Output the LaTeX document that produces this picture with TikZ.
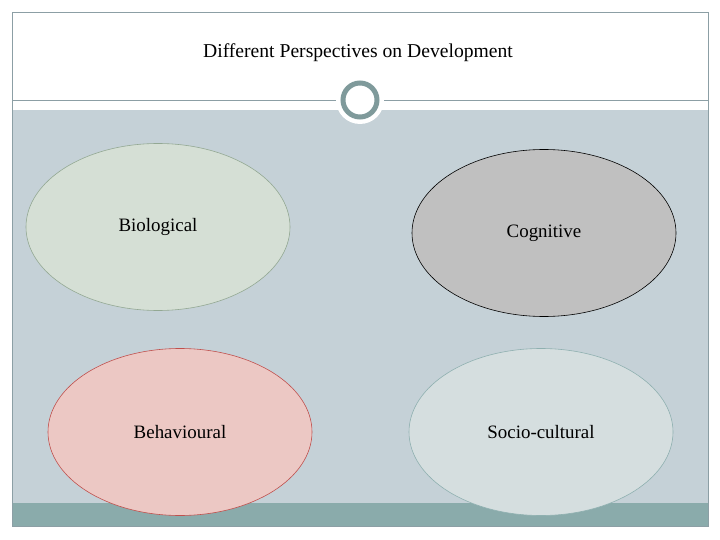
\documentclass[tikz,border=0pt]{standalone}
\usepackage{fontspec}
\setmainfont{Liberation Serif}
\usetikzlibrary{shapes.geometric}
\usepackage{xcolor}
\definecolor{slidebg}{HTML}{C5D1D7}
\definecolor{barteal}{HTML}{8AABAB}
\definecolor{ringteal}{HTML}{7F9A9B}
\definecolor{framegray}{HTML}{8C9FA5}
\definecolor{biofill}{HTML}{D5DFD5}
\definecolor{bioline}{HTML}{93A893}
\definecolor{cogfill}{HTML}{C0C0C0}
\definecolor{behfill}{HTML}{ECC8C4}
\definecolor{behline}{HTML}{C0504D}
\definecolor{socfill}{HTML}{D5DEDF}
\definecolor{socline}{HTML}{8FB0B0}
\tikzset{
  oval/.style={ellipse, minimum width=264bp, minimum height=167bp, inner sep=0pt, line width=0.6pt, font=\fontsize{19}{22}\selectfont},
  titletext/.style={font=\fontsize{19.7}{23}\selectfont},
  frameline/.style={draw=framegray, line width=0.8pt}
}

\begin{document}
\begin{tikzpicture}[x=1bp,y=-1bp]
\useasboundingbox (0,0) rectangle (720,540);
% slide background
\fill[white] (12,12) rectangle (708,110);
\fill[slidebg] (12,110) rectangle (708,503);
\fill[barteal] (12,503) rectangle (708,526);
\draw[frameline] (12,100) -- (708,100);
\draw[frameline] (12,12) rectangle (708,526);
% ring on the divider
\fill[white] (360,100) circle (24);
\draw[ringteal, line width=5bp, fill=white] (360,100) circle (17);

\node[titletext] (title) at (358,53) {Different Perspectives on Development};

\node[oval, draw=bioline, fill=biofill] (bio) at (158,227) {Biological};
\node[oval, draw=black, fill=cogfill] (cog) at (544,233) {Cognitive};
\node[oval, draw=behline, fill=behfill] (beh) at (180,432) {Behavioural};
\node[oval, draw=socline, fill=socfill] (soc) at (541,432) {Socio-cultural};
\end{tikzpicture}
\end{document}
